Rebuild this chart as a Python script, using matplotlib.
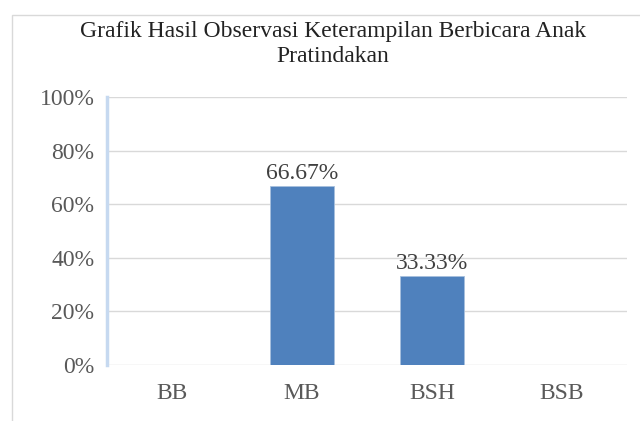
import matplotlib.pyplot as plt
from matplotlib.patches import Rectangle

categories = ['BB', 'MB', 'BSH', 'BSB']
values = [0, 66.67, 33.33, 0]
labels = ['', '66.67%', '33.33%', '']
yticks = [0, 20, 40, 60, 80, 100]

plt.rcParams['font.family'] = ['Liberation Serif', 'DejaVu Serif']

W, H = 640, 421
fig = plt.figure(figsize=(W / 100, H / 100), dpi=100)

# outer chart border
fig.patches.append(Rectangle((12 / W, -0.01), 1.0, 1 - 15 / H + 0.01, transform=fig.transFigure,
                             fill=False, edgecolor='#d9d9d9', linewidth=1.0))

ax = fig.add_axes([107 / W, 1 - 365 / H, 520 / W, 268 / H])
x = range(len(categories))
ax.bar(x, values, width=0.49, color='#4f81bd', edgecolor='#a7c0de', linewidth=0.6, zorder=3)

for i, (v, lab) in enumerate(zip(values, labels)):
    if lab:
        ax.text(i, v + 0.8, lab, ha='center', va='bottom', fontsize=17, color='#404040')

ax.set_xlim(-0.5, 3.5)
ax.set_ylim(0, 100)
ax.set_yticks(yticks)
ax.set_yticklabels([f'{t}%' for t in yticks])
ax.set_xticks(list(x))
ax.set_xticklabels(categories)
ax.tick_params(axis='y', length=0, pad=9, labelsize=17, labelcolor='#595959')
ax.tick_params(axis='x', length=0, pad=13, labelsize=17, labelcolor='#595959')
ax.grid(axis='y', color='#d9d9d9', linewidth=1.0, zorder=0)
for s in ['top', 'right', 'bottom']:
    ax.spines[s].set_visible(False)
ax.spines['left'].set_color('#c6d9f0')
ax.spines['left'].set_linewidth(2.5)

fig.text(0.52, 1 - 44 / H, 'Grafik Hasil Observasi Keterampilan Berbicara Anak\nPratindakan',
         ha='center', va='center', fontsize=17, color='#222222', linespacing=1.25)

fig.savefig('out.png', dpi=100)
